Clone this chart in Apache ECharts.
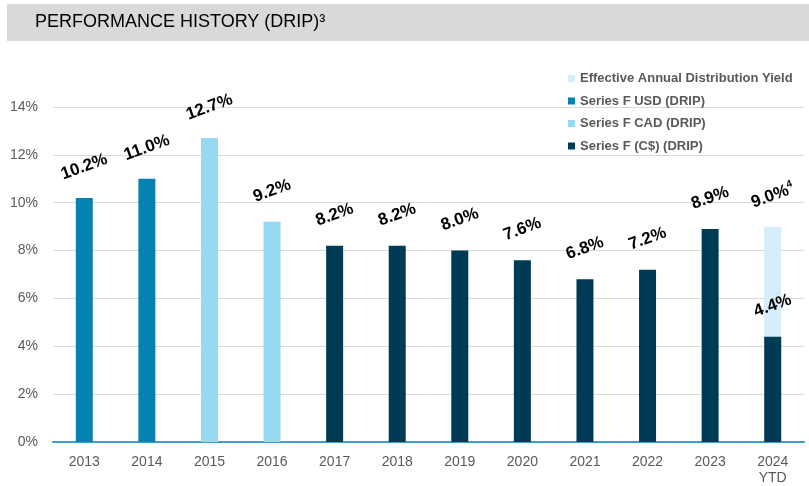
<!DOCTYPE html>
<html><head><meta charset="utf-8">
<script src="https://cdn.jsdelivr.net/npm/echarts@6/dist/echarts.min.js"></script>
<style>html,body{margin:0;padding:0;background:#fff}#c{width:809px;height:486px}</style>
</head><body><div id="c"></div>
<script>
var categories = ['2013','2014','2015','2016','2017','2018','2019','2020','2021','2022','2023','2024\nYTD'];
var yieldVals = [null,null,null,null,null,null,null,null,null,null,null,9.0];
var usdVals   = [10.2,11.0,null,null,null,null,null,null,null,null,null,null];
var cadVals   = [null,null,12.7,9.2,null,null,null,null,null,null,null,null];
var cdnVals   = [null,null,null,null,8.2,8.2,8.0,7.6,6.8,7.2,8.9,4.4];
var yTicks = [0,2,4,6,8,10,12,14];

var chart = echarts.init(document.getElementById('c'), null, {renderer:'canvas'});
function lbl(sup){
  return {
    show:true, position:'top', distance:31, rotate:20,
    align:'center', verticalAlign:'middle',
    fontFamily:'Liberation Sans, Arial, sans-serif', fontWeight:'bold', fontSize:17, color:'#000',
    formatter:function(p){ return sup ? '{a|'+p.value.toFixed(1)+'%}{s|4}' : p.value.toFixed(1)+'%'; },
    rich:{a:{fontFamily:'Liberation Sans, Arial, sans-serif', fontWeight:'bold', fontSize:17, color:'#000'},
          s:{fontFamily:'Liberation Sans, Arial, sans-serif', fontSize:10, color:'#000', verticalAlign:'top', padding:[0,0,10,0]}}
  };
}
function mk(name, data, color, sup){
  return {name:name, type:'bar', data:data, barWidth:17, barGap:'-100%',
    itemStyle:{color:color}, label:lbl(sup), emphasis:{disabled:true}};
}
chart.setOption({
  animation:false,
  graphic:[
    {type:'rect', shape:{x:7,y:4,width:802,height:37}, style:{fill:'#d9d9d9'}, z:-1},
    {type:'text', left:35, top:13, style:{text:'PERFORMANCE HISTORY (DRIP)³', fontFamily:'Liberation Sans, Arial, sans-serif', fontSize:18, fill:'#000'}}
  ],
  legend:{
    orient:'vertical', left:563, top:67, itemWidth:7, itemHeight:7, itemGap:9.5, icon:'rect',
    textStyle:{fontFamily:'Liberation Sans, Arial, sans-serif', fontWeight:'bold', fontSize:13, color:'#595959'},
    data:['Effective Annual Distribution Yield','Series F USD (DRIP)','Series F CAD (DRIP)','Series F (C$) (DRIP)']
  },
  grid:{left:53, right:5, top:107, bottom:41},
  xAxis:{type:'category', data:categories,
    axisLine:{lineStyle:{color:'#3c9fc9', width:2}}, axisTick:{show:false},
    axisLabel:{fontFamily:'Liberation Sans, Arial, sans-serif', fontSize:14, color:'#595959', margin:12, lineHeight:16}},
  yAxis:{type:'value', min:yTicks[0], max:yTicks[yTicks.length-1], interval:2,
    axisLine:{show:false}, axisTick:{show:false},
    splitLine:{lineStyle:{color:'#d9d9d9'}},
    axisLabel:{fontFamily:'Liberation Sans, Arial, sans-serif', fontSize:14, color:'#595959', margin:15, formatter:'{value}%'}},
  series:[
    mk('Effective Annual Distribution Yield', yieldVals, '#d6eef9', true),
    mk('Series F USD (DRIP)', usdVals, '#0582b0', false),
    mk('Series F CAD (DRIP)', cadVals, '#97d8f3', false),
    mk('Series F (C$) (DRIP)', cdnVals, '#003b56', false)
  ]
});
</script></body></html>
